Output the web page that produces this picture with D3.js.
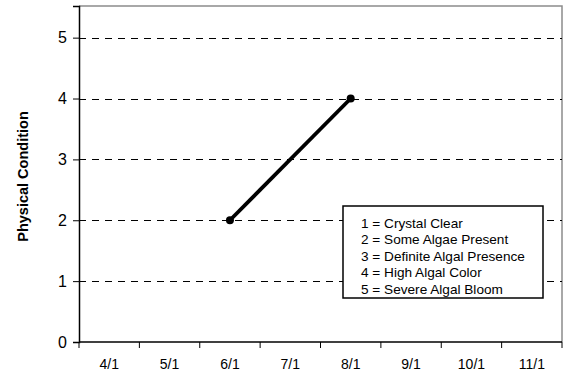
<!DOCTYPE html>
<html>
<head>
<meta charset="utf-8">
<script src="https://cdn.jsdelivr.net/npm/d3@7"></script>
<style>
  body { margin: 0; background: #fff; }
  svg { display: block; font-family: Arial, "Liberation Sans", sans-serif; }
  .grid line { stroke: #000; stroke-dasharray: 7,6; stroke-width: 1; }
</style>
</head>
<body>
<div id="chart"></div>
<script>
// Month categories on the x axis (labels sit between the tick marks)
const months = ['4/1', '5/1', '6/1', '7/1', '8/1', '9/1', '10/1', '11/1'];
// Physical condition samples (date category + rating)
const sampleDates = ['6/1', '8/1'];
const sampleValues = [2, 4];
const yTicks = [0, 1, 2, 3, 4, 5];
const legendLines = [
  '1 = Crystal Clear',
  '2 = Some Algae Present',
  '3 = Definite Algal Presence',
  '4 = High Algal Color',
  '5 = Severe Algal Bloom',
];

const width = 571, height = 377;
const margin = { top: 6, right: 9, bottom: 35, left: 79 };
const innerWidth = width - margin.left - margin.right;
const innerHeight = height - margin.top - margin.bottom;

const svg = d3.select('#chart').append('svg').attr('width', width).attr('height', height);
const g = svg.append('g').attr('transform', `translate(${margin.left},${margin.top})`);

const x = d3.scaleBand().domain(months).range([0, innerWidth]);
const y = d3.scaleLinear().domain([0, 5.52]).range([innerHeight, 0]);

// plot frame (top/right in gray)
g.append('path')
  .attr('d', `M0,0H${innerWidth}V${innerHeight}`)
  .attr('fill', 'none')
  .attr('stroke', '#8c8c8c')
  .attr('stroke-width', 1.5);

// dashed gridlines
g.append('g').attr('class', 'grid')
  .selectAll('line')
  .data(yTicks.filter((d) => d > 0))
  .join('line')
  .attr('x1', 0)
  .attr('x2', innerWidth)
  .attr('y1', (d) => Math.round(y(d)) + 0.5)
  .attr('y2', (d) => Math.round(y(d)) + 0.5);

// y axis
const yAxis = g.append('g')
  .call(d3.axisLeft(y).tickValues(yTicks).tickSize(6).tickPadding(6).tickFormat(d3.format('d')));
yAxis.select('.domain').attr('stroke', '#000').attr('stroke-width', 1.5);
yAxis.selectAll('.tick line').attr('stroke', '#000');
yAxis.selectAll('text').attr('font-size', 16).attr('fill', '#000').attr('font-family', 'Arial, "Liberation Sans", sans-serif');

// x axis: ticks at category boundaries, labels centred in each band
const xAxis = g.append('g').attr('transform', `translate(0,${innerHeight})`);
xAxis.append('line')
  .attr('x1', 0).attr('x2', innerWidth)
  .attr('stroke', '#000').attr('stroke-width', 1.5);
const bounds = months.map((m) => x(m)).concat([x(months[months.length - 1]) + x.bandwidth()]);
xAxis.selectAll('line.tick')
  .data(bounds)
  .join('line')
  .attr('class', 'tick')
  .attr('x1', (d) => d).attr('x2', (d) => d)
  .attr('y1', 0).attr('y2', 6)
  .attr('stroke', '#000');
xAxis.selectAll('text')
  .data(months)
  .join('text')
  .attr('x', (d) => x(d) + x.bandwidth() / 2)
  .attr('y', 27)
  .attr('text-anchor', 'middle')
  .attr('font-size', 14)
  .text((d) => d);

// y axis title
svg.append('text')
  .attr('transform', 'translate(28,176.5) rotate(-90)')
  .attr('text-anchor', 'middle')
  .attr('font-size', 14.5)
  .attr('font-weight', 'bold')
  .text('Physical Condition');

// series
const pts = sampleDates.map((d, i) => ({ date: d, value: sampleValues[i] }));
const line = d3.line()
  .x((d) => x(d.date) + x.bandwidth() / 2)
  .y((d) => y(d.value));
g.append('path')
  .datum(pts)
  .attr('d', line)
  .attr('fill', 'none')
  .attr('stroke', '#000')
  .attr('stroke-width', 3.8);
g.selectAll('circle.pt')
  .data(pts)
  .join('circle')
  .attr('class', 'pt')
  .attr('cx', (d) => x(d.date) + x.bandwidth() / 2)
  .attr('cy', (d) => y(d.value))
  .attr('r', 4)
  .attr('fill', '#000');

// legend box
const legend = svg.append('g').attr('transform', 'translate(343,206)');
legend.append('rect')
  .attr('width', 200).attr('height', 92)
  .attr('fill', '#fff')
  .attr('stroke', '#000')
  .attr('stroke-width', 1.5);
legend.selectAll('text')
  .data(legendLines)
  .join('text')
  .attr('transform', (d, i) => `translate(18,${21.5 + i * 16.6}) scale(1.09,1)`)
  .attr('font-size', 12.5)
  .text((d) => d);
</script>
</body>
</html>
